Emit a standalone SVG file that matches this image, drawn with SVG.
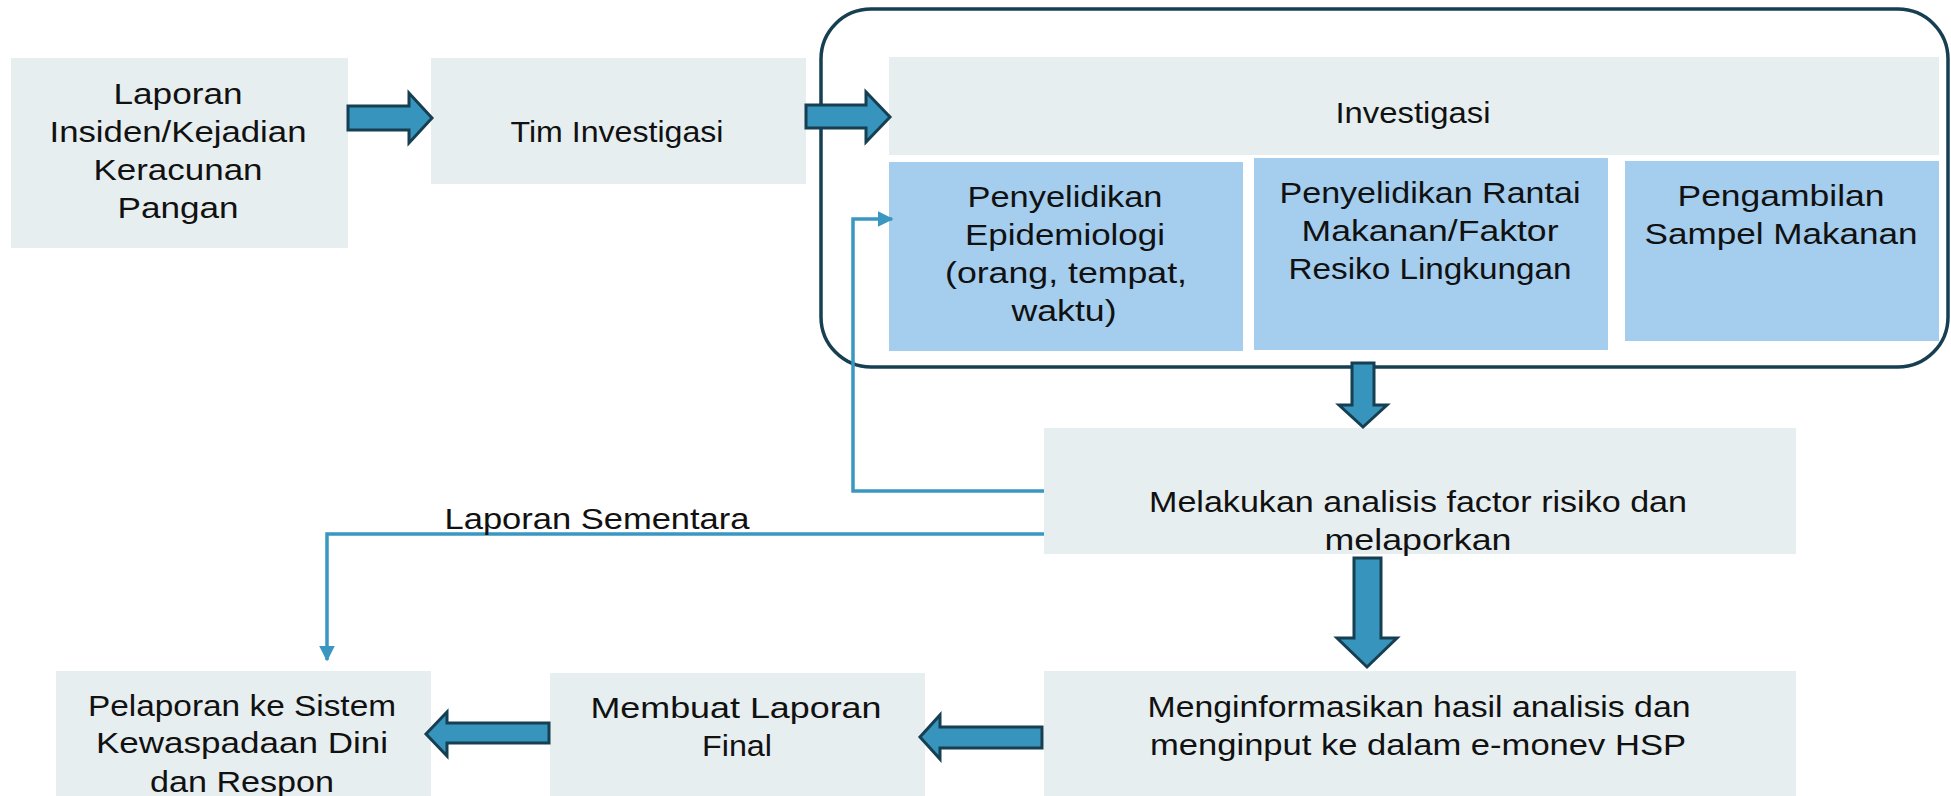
<svg xmlns="http://www.w3.org/2000/svg" width="1951" height="796" viewBox="0 0 1951 796">
<style>
.g{fill:#e6eef0}
.b{fill:#a4cdee}
.t{font-family:"Liberation Sans",Arial,sans-serif;font-size:30px;fill:#111;text-anchor:middle}
.ba{fill:#3694bd;stroke:#173f52;stroke-width:3;stroke-linejoin:miter}
.ln{fill:none;stroke:#3a97c2;stroke-width:3.5}
</style>
<defs>
<marker id="ah2" viewBox="0 0 10 10" refX="9" refY="5" markerWidth="4.5" markerHeight="4.5" orient="auto">
<path d="M0,0 L10,5 L0,10 z" fill="#3a97c2"/>
</marker>
</defs>
<rect width="1951" height="796" fill="#fff"/>
<rect id="container" x="821" y="9" width="1127" height="358" rx="50" ry="50" fill="none" stroke="#173f52" stroke-width="3.5"/>
<g id="n1"><rect class="g" x="11" y="58" width="337" height="190"/>
<text class="t" x="178" y="104" textLength="129" lengthAdjust="spacingAndGlyphs">Laporan</text><text class="t" x="178" y="142" textLength="257" lengthAdjust="spacingAndGlyphs">Insiden/Kejadian</text><text class="t" x="178" y="180" textLength="169" lengthAdjust="spacingAndGlyphs">Keracunan</text><text class="t" x="178" y="218" textLength="121" lengthAdjust="spacingAndGlyphs">Pangan</text></g>
<g id="n2"><rect class="g" x="431" y="58" width="375" height="126"/>
<text class="t" x="617" y="142" textLength="213" lengthAdjust="spacingAndGlyphs">Tim Investigasi</text></g>
<g id="n3"><rect class="g" x="889" y="57" width="1050" height="98"/>
<text class="t" x="1413" y="123" textLength="155" lengthAdjust="spacingAndGlyphs">Investigasi</text></g>
<g id="n4"><rect class="b" x="889" y="162" width="354" height="189"/>
<text class="t" x="1065" y="207" textLength="195" lengthAdjust="spacingAndGlyphs">Penyelidikan</text><text class="t" x="1065" y="245" textLength="200" lengthAdjust="spacingAndGlyphs">Epidemiologi</text><text class="t" x="1066" y="283" textLength="242" lengthAdjust="spacingAndGlyphs">(orang, tempat,</text><text class="t" x="1064" y="321" textLength="105" lengthAdjust="spacingAndGlyphs">waktu)</text></g>
<g id="n5"><rect class="b" x="1254" y="158" width="354" height="192"/>
<text class="t" x="1430" y="203" textLength="301" lengthAdjust="spacingAndGlyphs">Penyelidikan Rantai</text><text class="t" x="1430" y="241" textLength="257" lengthAdjust="spacingAndGlyphs">Makanan/Faktor</text><text class="t" x="1430" y="279" textLength="283" lengthAdjust="spacingAndGlyphs">Resiko Lingkungan</text></g>
<g id="n6"><rect class="b" x="1625" y="161" width="314" height="180"/>
<text class="t" x="1781" y="206" textLength="207" lengthAdjust="spacingAndGlyphs">Pengambilan</text><text class="t" x="1781" y="244" textLength="273" lengthAdjust="spacingAndGlyphs">Sampel Makanan</text></g>
<g id="n7"><rect class="g" x="1044" y="428" width="752" height="126"/>
<text class="t" x="1418" y="512" textLength="538" lengthAdjust="spacingAndGlyphs">Melakukan analisis factor risiko dan</text><text class="t" x="1418" y="550" textLength="187" lengthAdjust="spacingAndGlyphs">melaporkan</text></g>
<g id="n8"><rect class="g" x="1044" y="671" width="752" height="130"/>
<text class="t" x="1419" y="717" textLength="543" lengthAdjust="spacingAndGlyphs">Menginformasikan hasil analisis dan</text><text class="t" x="1418" y="755" textLength="536" lengthAdjust="spacingAndGlyphs">menginput ke dalam e-monev HSP</text></g>
<g id="n9"><rect class="g" x="550" y="673" width="375" height="130"/>
<text class="t" x="736" y="718" textLength="291" lengthAdjust="spacingAndGlyphs">Membuat Laporan</text><text class="t" x="737" y="756" textLength="70" lengthAdjust="spacingAndGlyphs">Final</text></g>
<g id="n10"><rect class="g" x="56" y="671" width="375" height="130"/>
<text class="t" x="242" y="716" textLength="308" lengthAdjust="spacingAndGlyphs">Pelaporan ke Sistem</text><text class="t" x="242" y="753" textLength="292" lengthAdjust="spacingAndGlyphs">Kewaspadaan Dini</text><text class="t" x="242" y="792" textLength="184" lengthAdjust="spacingAndGlyphs">dan Respon</text></g>
<g id="connectors">
<path class="ba" d="M348,106 L409,106 L409,93 L432,118 L409,143 L409,130 L348,130 Z"/>
<path class="ba" d="M806,105 L866,105 L866,92 L890,117 L866,142 L866,128 L806,128 Z"/>
<path class="ba" d="M1352,363 L1374,363 L1374,405 L1387,405 L1363,427 L1339,405 L1352,405 Z"/>
<path class="ba" d="M1354,558 L1381,558 L1381,638 L1397,638 L1367,667 L1337,638 L1354,638 Z"/>
<path class="ba" d="M1042,727 L940,727 L940,715 L920,737 L940,759 L940,748 L1042,748 Z"/>
<path class="ba" d="M549,723 L447,723 L447,712 L426,734 L447,756 L447,743 L549,743 Z"/>
<path class="ln" d="M1044,491 L853,491 L853,219 L892,219" marker-end="url(#ah2)"/>
<path class="ln" d="M1044,534 L327,534 L327,660" marker-end="url(#ah2)"/>
<text class="t" x="597" y="529" textLength="305" lengthAdjust="spacingAndGlyphs">Laporan Sementara</text>
</g>
</svg>
